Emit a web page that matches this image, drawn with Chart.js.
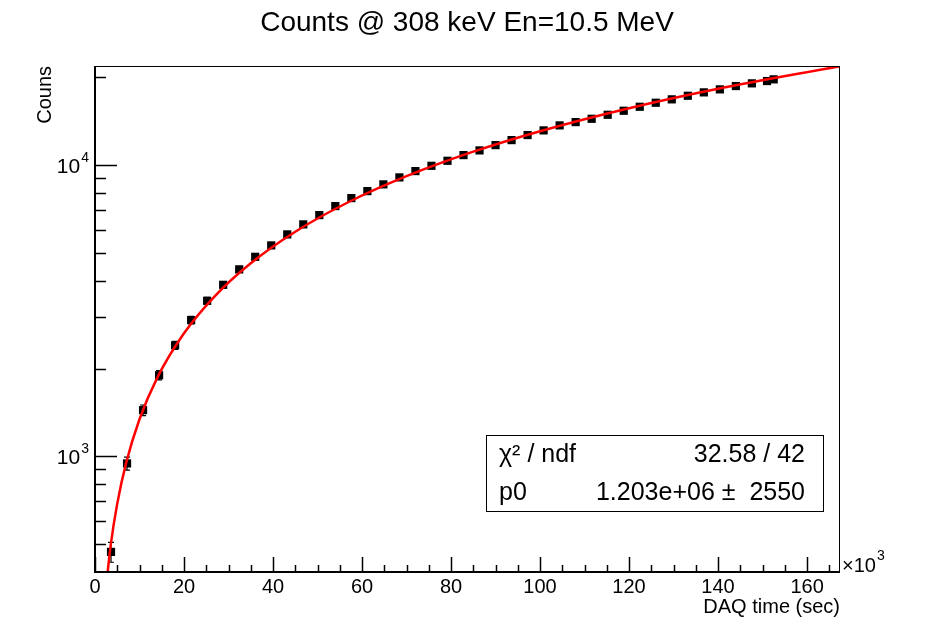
<!DOCTYPE html>
<html>
<head>
<meta charset="utf-8">
<title>Counts @ 308 keV En=10.5 MeV</title>
<script src="https://cdn.jsdelivr.net/npm/chart.js@4.4.1/dist/chart.umd.min.js"></script>
<style>
  html, body { margin: 0; padding: 0; background: #fff; }
  #countsChart { display: block; }
</style>
</head>
<body>
<canvas id="countsChart" width="926" height="623"></canvas>
<script>
// Measured points: DAQ time (x10^3 sec), counts and their errors
const daqTime = [3.6, 7.2, 10.8, 14.4, 18.0, 21.6, 25.2, 28.8, 32.4, 36.0,
  39.6, 43.2, 46.8, 50.4, 54.0, 57.6, 61.2, 64.8, 68.4, 72.0,
  75.6, 79.2, 82.8, 86.4, 90.0, 93.6, 97.2, 100.8, 104.4, 108.0,
  111.6, 115.2, 118.8, 122.4, 126.0, 129.6, 133.2, 136.8, 140.4, 144.0,
  147.6, 151.0, 152.5];
const counts = [469, 944, 1439, 1897, 2404, 2934, 3418, 3879, 4382, 4841,
  5298, 5780, 6256, 6734, 7231, 7702, 8140, 8585, 9073, 9537,
  9945, 10346, 10823, 11232, 11713, 12187, 12681, 13160, 13690, 14053,
  14424, 14890, 15370, 15863, 16375, 16822, 17306, 17776, 18202, 18687,
  19091, 19442, 19704];
const countErr = [37, 49, 60, 69, 78, 86, 93, 99, 105, 111,
  116, 121, 126, 131, 135, 140, 144, 148, 152, 156,
  159, 163, 166, 170, 173, 176, 180, 183, 186, 189,
  191, 194, 197, 200, 203, 206, 209, 212, 214, 217,
  220, 222, 224];

// Fit curve
const fitTime = [2.2, 3.5, 5, 7, 10, 14, 20, 27, 35, 45, 57, 70, 85, 100, 120, 140, 167.4];
const fitCounts = [322, 491, 687, 948, 1339, 1861, 2643, 3556, 4599, 5903, 7468, 9163, 11119, 13075, 15683, 18291, 21864];

// Axis ranges and ticks
const xRange = [0, 167.4];
const yRange = [400, 21900];
const xMajorTicks = [0, 20, 40, 60, 80, 100, 120, 140, 160];
const xMinorTicks = [5, 10, 15, 25, 30, 35, 45, 50, 55, 65, 70, 75, 85, 90, 95,
  105, 110, 115, 125, 130, 135, 145, 150, 155, 165];
const yMajorTicks = [1000, 10000];
const yMajorExp = ['3', '4'];
const yMinorTicks = [500, 600, 700, 800, 900, 2000, 3000, 4000, 5000, 6000, 7000, 8000, 9000, 20000];

// Stats box
const statsLabels = ['\u03c7\u00b2 / ndf', 'p0'];
const statsValues = ['32.58 / 42', '1.203e+06 \u00b1  2550'];

const FONT = '"Liberation Sans", Arial, Helvetica, sans-serif';

// Draws "10" with a raised exponent, right edge at xRight
function drawPower(ctx, exp, xRight, yMid, size) {
  const small = Math.round(size * 0.68);
  ctx.font = small + 'px ' + FONT;
  const ew = ctx.measureText(exp).width;
  ctx.font = size + 'px ' + FONT;
  const bw = ctx.measureText('10').width;
  ctx.textAlign = 'left';
  ctx.textBaseline = 'middle';
  ctx.fillText('10', xRight - ew - bw - 1, yMid + 2);
  ctx.font = small + 'px ' + FONT;
  ctx.fillText(exp, xRight - ew, yMid - 7);
}

const rootFrame = {
  id: 'rootFrame',
  beforeDatasetsDraw(chart) {
    // error bars sit under the markers
    const { ctx, scales: { x, y } } = chart;
    ctx.save();
    ctx.strokeStyle = '#000';
    ctx.lineWidth = 1.2;
    daqTime.forEach((t, i) => {
      const px = x.getPixelForValue(t);
      const top = y.getPixelForValue(counts[i] + countErr[i]);
      const bot = y.getPixelForValue(counts[i] - countErr[i]);
      ctx.beginPath();
      ctx.moveTo(px, top); ctx.lineTo(px, bot);
      ctx.moveTo(px - 3, top); ctx.lineTo(px + 3, top);
      ctx.moveTo(px - 3, bot); ctx.lineTo(px + 3, bot);
      ctx.stroke();
    });
    ctx.restore();
  },
  afterDraw(chart) {
    const { ctx, chartArea: a, scales: { x, y } } = chart;
    ctx.save();
    ctx.fillStyle = '#000';
    ctx.strokeStyle = '#000';

    // frame
    ctx.lineWidth = 1;
    ctx.strokeRect(a.left + 0.5, a.top + 0.5, a.right - a.left - 1, a.bottom - a.top);
    ctx.lineWidth = 2;
    ctx.beginPath();
    ctx.moveTo(a.left, a.top); ctx.lineTo(a.left, a.bottom); ctx.lineTo(a.right, a.bottom);
    ctx.stroke();

    // x ticks (inward)
    ctx.lineWidth = 1.5;
    ctx.beginPath();
    xMajorTicks.forEach(v => {
      const px = Math.round(x.getPixelForValue(v)) + 0.5;
      ctx.moveTo(px, a.bottom); ctx.lineTo(px, a.bottom - 15);
    });
    xMinorTicks.forEach(v => {
      const px = Math.round(x.getPixelForValue(v)) + 0.5;
      ctx.moveTo(px, a.bottom); ctx.lineTo(px, a.bottom - 7);
    });
    // y ticks (inward)
    yMajorTicks.forEach(v => {
      const py = Math.round(y.getPixelForValue(v)) + 0.5;
      ctx.moveTo(a.left, py); ctx.lineTo(a.left + 22, py);
    });
    yMinorTicks.forEach(v => {
      const py = Math.round(y.getPixelForValue(v)) + 0.5;
      ctx.moveTo(a.left, py); ctx.lineTo(a.left + 11, py);
    });
    ctx.stroke();

    // x tick labels
    ctx.font = '20px ' + FONT;
    ctx.textAlign = 'center';
    ctx.textBaseline = 'middle';
    xMajorTicks.forEach(v => {
      ctx.fillText(String(v), x.getPixelForValue(v), a.bottom + 15);
    });
    // y tick labels
    yMajorTicks.forEach((v, i) => {
      drawPower(ctx, yMajorExp[i], a.left - 6, y.getPixelForValue(v), 21);
    });

    // x10^3 multiplier
    ctx.font = '20px ' + FONT;
    ctx.textAlign = 'left';
    ctx.textBaseline = 'middle';
    ctx.fillText('\u00d710', a.right + 2, a.bottom - 6);
    const mw = ctx.measureText('\u00d710').width;
    ctx.font = '14px ' + FONT;
    ctx.fillText('3', a.right + 3 + mw, a.bottom - 16);

    // axis titles
    ctx.font = '20px ' + FONT;
    ctx.textAlign = 'right';
    ctx.textBaseline = 'middle';
    ctx.fillText('DAQ time (sec)', a.right, a.bottom + 35);
    ctx.save();
    ctx.translate(45, a.top);
    ctx.rotate(-Math.PI / 2);
    ctx.textAlign = 'right';
    ctx.fillText('Couns', 0, 0);
    ctx.restore();

    // title
    ctx.font = '28px ' + FONT;
    ctx.textAlign = 'center';
    ctx.textBaseline = 'middle';
    ctx.fillText('Counts @ 308 keV En=10.5 MeV', 467, 23);

    // stats box
    ctx.fillStyle = '#fff';
    ctx.fillRect(486, 435, 337, 76);
    ctx.lineWidth = 1;
    ctx.strokeStyle = '#000';
    ctx.strokeRect(486.5, 435.5, 337, 76);
    ctx.fillStyle = '#000';
    ctx.font = '25px ' + FONT;
    ctx.textBaseline = 'middle';
    const rowY = [455, 493];
    statsLabels.forEach((lab, i) => {
      ctx.textAlign = 'left';
      ctx.fillText(lab, 499, rowY[i]);
      ctx.textAlign = 'right';
      ctx.fillText(statsValues[i], 805, rowY[i]);
    });
    ctx.restore();
  }
};

const ctx = document.getElementById('countsChart').getContext('2d');
const countsChart = new Chart(ctx, {
  type: 'scatter',
  data: {
    datasets: [
      {
        // fit, drawn on top of the markers
        type: 'line',
        data: fitTime.map((t, i) => ({ x: t, y: fitCounts[i] })),
        borderColor: '#ff0000',
        borderWidth: 2.5,
        pointRadius: 0,
        fill: false,
        cubicInterpolationMode: 'monotone'
      },
      {
        data: daqTime.map((t, i) => ({ x: t, y: counts[i] })),
        pointStyle: 'rect',
        pointRadius: 5.8,
        backgroundColor: '#000',
        borderColor: '#000',
        borderWidth: 0
      }
    ]
  },
  options: {
    responsive: false,
    animation: false,
    layout: { padding: { left: 95, right: 86, top: 66, bottom: 51 } },
    plugins: {
      legend: { display: false },
      tooltip: { enabled: false }
    },
    scales: {
      x: { type: 'linear', display: false, min: xRange[0], max: xRange[1] },
      y: { type: 'logarithmic', display: false, min: yRange[0], max: yRange[1] }
    }
  },
  plugins: [rootFrame]
});
</script>
</body>
</html>
